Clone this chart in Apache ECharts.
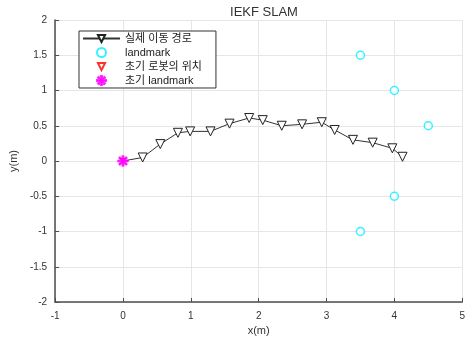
<!DOCTYPE html>
<html>
<head>
<meta charset="utf-8">
<script src="https://cdn.jsdelivr.net/npm/echarts@6/dist/echarts.min.js"></script>
<style>
  html, body { margin: 0; padding: 0; background: #fff; }
  #chart { width: 468px; height: 343px; }
</style>
</head>
<body>
<div id="chart"></div>
<script>
// Estimated robot trajectory (x, y in metres)
const pathX = [0, 0.29, 0.55, 0.81, 0.99, 1.29, 1.57, 1.86, 2.06, 2.34, 2.64, 2.93, 3.12, 3.39, 3.68, 3.97, 4.12];
const pathY = [0, 0.05, 0.24, 0.40, 0.42, 0.42, 0.53, 0.61, 0.58, 0.50, 0.52, 0.55, 0.44, 0.30, 0.26, 0.18, 0.06];

// Landmark positions
const landmarkX = [3.5, 4.0, 4.5, 4.0, 3.5];
const landmarkY = [1.5, 1.0, 0.5, -0.5, -1.0];

// Initial robot pose and initial landmark estimate
const robotStart = [0, 0];
const landmarkStart = [0, 0];

const seriesNames = ['실제 이동 경로', 'landmark', '초기 로봇의 위치', '초기 landmark'];

const zip = (xs, ys) => xs.map((x, i) => [x, ys[i]]);

const FONT = '"Liberation Sans", Arial, "Noto Sans CJK KR", sans-serif';
const asterisk = 'path://M-0.12,-1 L0.12,-1 L0.12,-0.29 L0.62,-0.79 L0.79,-0.62 L0.29,-0.12 L1,-0.12 L1,0.12 L0.29,0.12 L0.79,0.62 L0.62,0.79 L0.12,0.29 L0.12,1 L-0.12,1 L-0.12,0.29 L-0.62,0.79 L-0.79,0.62 L-0.29,0.12 L-1,0.12 L-1,-0.12 L-0.29,-0.12 L-0.79,-0.62 L-0.62,-0.79 L-0.12,-0.29 Z';

const chart = echarts.init(document.getElementById('chart'), null, { renderer: 'canvas' });

const axisCommon = {
  axisLine: { onZero: false, lineStyle: { color: '#4d4d4d', width: 1.5 } },
  axisTick: { inside: true, length: 4, lineStyle: { color: '#4d4d4d' } },
  splitLine: { show: true, lineStyle: { color: '#e6e6e6', width: 1 } },
  axisLabel: { color: '#333', fontSize: 10, fontFamily: FONT },
  nameLocation: 'middle',
  nameTextStyle: { color: '#333', fontSize: 11, fontFamily: FONT }
};

// The starting pose is marked by its own series, so the path skips its first marker
const pathData = zip(pathX, pathY).map((p, i) => (i === 0 ? { value: p, symbol: 'none' } : p));

chart.setOption({
  animation: false,
  backgroundColor: '#fff',
  title: {
    text: 'IEKF SLAM',
    left: 259,
    top: 1,
    textAlign: 'center',
    textStyle: { color: '#333', fontSize: 13, fontWeight: 'normal', fontFamily: FONT }
  },
  grid: { left: 52, top: 20, width: 415, height: 282 },
  xAxis: Object.assign({}, axisCommon, {
    type: 'value', min: -1, max: 5, interval: 1,
    name: 'x(m)', nameGap: 21,
    axisLabel: Object.assign({}, axisCommon.axisLabel, { margin: 9 })
  }),
  yAxis: Object.assign({}, axisCommon, {
    type: 'value', min: -2, max: 2, interval: 0.5,
    name: 'y(m)', nameGap: 33,
    axisLabel: Object.assign({}, axisCommon.axisLabel, { margin: 8 })
  }),
  legend: {
    orient: 'vertical',
    left: 79,
    top: 31,
    padding: [2, 14, 2, 3],
    itemWidth: 37,
    itemHeight: 9,
    itemGap: 3,
    backgroundColor: '#fff',
    borderColor: '#333',
    borderWidth: 1,
    borderRadius: 0,
    textStyle: { color: '#222', fontSize: 11, fontFamily: FONT },
    data: [
      { name: seriesNames[0] },
      { name: seriesNames[1] },
      { name: seriesNames[2], lineStyle: { opacity: 0 } },
      { name: seriesNames[3] }
    ]
  },
  series: [
    {
      name: seriesNames[0],
      type: 'line',
      data: pathData,
      symbol: 'triangle',
      symbolRotate: 180,
      symbolSize: 9,
      lineStyle: { color: '#333', width: 1 },
      itemStyle: { color: '#fff', borderColor: '#222', borderWidth: 1 },
      z: 3
    },
    {
      name: seriesNames[1],
      type: 'scatter',
      data: zip(landmarkX, landmarkY),
      symbol: 'circle',
      symbolSize: 8,
      itemStyle: { color: '#fff', borderColor: '#00f0ff', borderWidth: 1.5 },
      z: 3
    },
    {
      // single-point marker drawn as a line series so its legend icon keeps the rotated triangle
      name: seriesNames[2],
      type: 'line',
      data: [robotStart],
      symbol: 'triangle',
      symbolRotate: 180,
      symbolSize: 5,
      showSymbol: true,
      lineStyle: { color: '#ff3030', width: 0, opacity: 0 },
      itemStyle: { color: '#fff', borderColor: '#ff3030', borderWidth: 1 },
      z: 4
    },
    {
      name: seriesNames[3],
      type: 'scatter',
      data: [landmarkStart],
      symbol: asterisk,
      symbolSize: 10,
      itemStyle: { color: '#ff00ff', borderColor: '#ff00ff', borderWidth: 1.5 },
      z: 5
    }
  ]
});
</script>
</body>
</html>
